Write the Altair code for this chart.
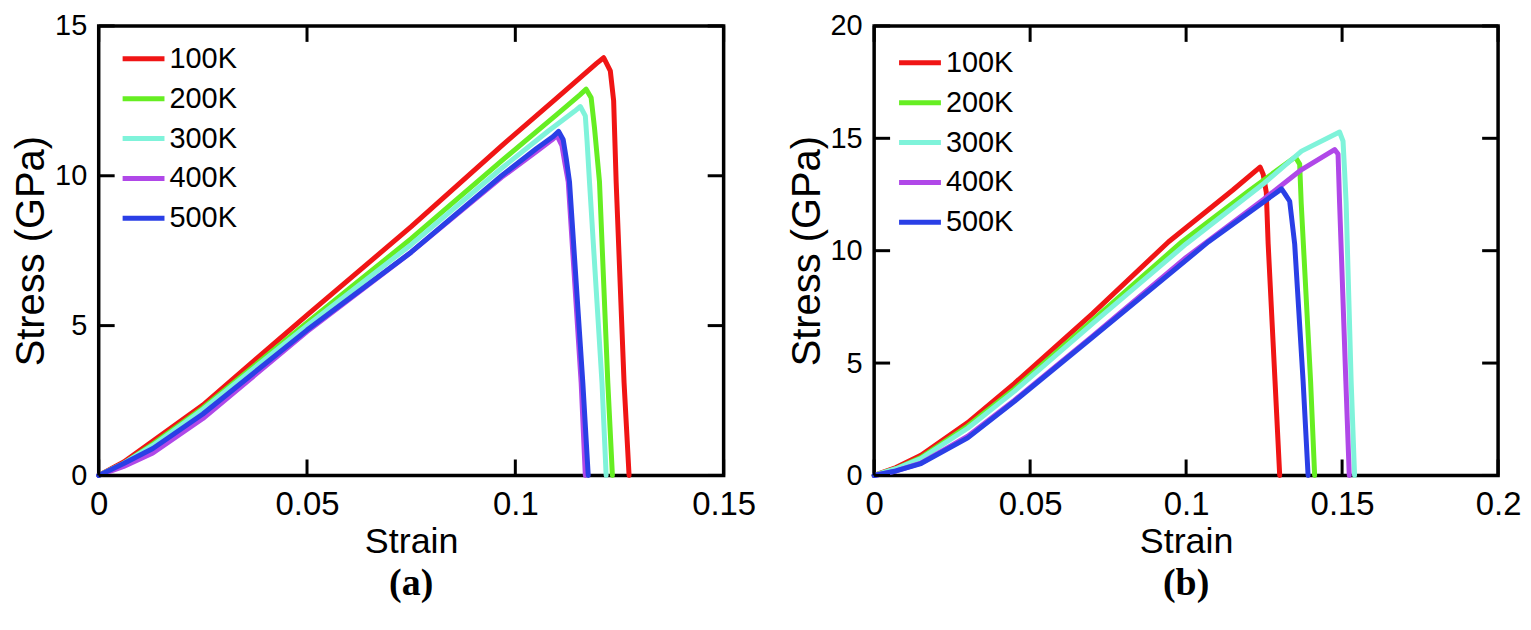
import altair as alt
import pandas as pd

temps = ["100K", "200K", "300K", "400K", "500K"]
colors = ["#F01515", "#66EE22", "#7FF3DA", "#B048E8", "#2A3FE6"]

# ---- panel (a) ----
a_strain_100 = [0, 0.006, 0.013, 0.025, 0.05, 0.075, 0.0967, 0.11, 0.1195, 0.1212, 0.1228, 0.1236, 0.1242, 0.1261, 0.1273]
a_stress_100 = [0, 0.45, 1.15, 2.35, 5.35, 8.3, 11.0, 12.6, 13.75, 13.94, 13.5, 12.5, 9.8, 3.1, 0]
a_strain_200 = [0, 0.006, 0.013, 0.025, 0.05, 0.075, 0.0967, 0.11, 0.1155, 0.117, 0.1182, 0.119, 0.1202, 0.1222, 0.1233]
a_stress_200 = [0, 0.4, 1.05, 2.25, 5.1, 7.9, 10.5, 12.05, 12.7, 12.89, 12.6, 11.6, 9.8, 3.1, 0]
a_strain_300 = [0, 0.006, 0.013, 0.025, 0.05, 0.075, 0.0967, 0.108, 0.1142, 0.1156, 0.1168, 0.1172, 0.1178, 0.1208, 0.1218]
a_stress_300 = [0, 0.4, 1.0, 2.2, 5.0, 7.7, 10.25, 11.5, 12.15, 12.31, 12.0, 11.2, 9.8, 3.1, 0]
a_strain_400 = [0, 0.006, 0.013, 0.025, 0.05, 0.075, 0.0967, 0.105, 0.1088, 0.110, 0.1112, 0.1118, 0.1127, 0.1158, 0.1168]
a_stress_400 = [0, 0.3, 0.75, 1.9, 4.8, 7.45, 9.95, 10.8, 11.2, 11.35, 11.0, 10.5, 9.8, 3.1, 0]
a_strain_500 = [0, 0.006, 0.013, 0.025, 0.05, 0.075, 0.0967, 0.105, 0.109, 0.1104, 0.1115, 0.1122, 0.1130, 0.1162, 0.1175]
a_stress_500 = [0, 0.4, 0.9, 2.05, 4.85, 7.45, 10.0, 10.9, 11.3, 11.48, 11.2, 10.6, 9.8, 3.1, 0]

# ---- panel (b) ----
b_strain_100 = [0, 0.007, 0.015, 0.03, 0.045, 0.07, 0.0944, 0.115, 0.1237, 0.1247, 0.1257, 0.1263, 0.1285, 0.130]
b_stress_100 = [0, 0.35, 0.9, 2.35, 4.1, 7.2, 10.4, 12.7, 13.72, 13.4, 12.6, 10.3, 4.2, 0]
b_strain_200 = [0, 0.007, 0.015, 0.03, 0.045, 0.07, 0.0987, 0.12, 0.135, 0.1364, 0.1369, 0.1399, 0.1412]
b_stress_200 = [0, 0.3, 0.8, 2.2, 3.85, 6.9, 10.4, 12.65, 14.17, 13.85, 12.1, 4.2, 0]
b_strain_300 = [0, 0.007, 0.015, 0.03, 0.045, 0.07, 0.1, 0.125, 0.137, 0.1492, 0.1503, 0.1508, 0.1513, 0.1529, 0.154]
b_stress_300 = [0, 0.3, 0.75, 2.1, 3.75, 6.75, 10.3, 13.0, 14.43, 15.28, 14.87, 13.55, 12.1, 4.2, 0]
b_strain_400 = [0, 0.007, 0.015, 0.03, 0.045, 0.07, 0.1, 0.125, 0.1369, 0.1476, 0.1487, 0.1492, 0.1512, 0.1523]
b_stress_400 = [0, 0.2, 0.55, 1.75, 3.35, 6.2, 9.7, 12.3, 13.6, 14.5, 14.3, 12.1, 4.2, 0]
b_strain_500 = [0, 0.007, 0.015, 0.03, 0.045, 0.07, 0.1072, 0.1306, 0.1318, 0.1332, 0.1348, 0.1375, 0.1391]
b_stress_500 = [0, 0.2, 0.53, 1.67, 3.3, 6.15, 10.4, 12.75, 12.5, 12.2, 10.3, 4.2, 0]

a_xticks = [0, 0.05, 0.1, 0.15]
a_yticks = [0, 5, 10, 15]
b_xticks = [0, 0.05, 0.1, 0.15, 0.2]
b_yticks = [0, 5, 10, 15, 20]


def build(pairs):
    rows = []
    for t, (xs, ys) in zip(temps, pairs):
        for i, (x, y) in enumerate(zip(xs, ys)):
            rows.append({"temp": t, "idx": i, "strain": x, "stress": y})
    return pd.DataFrame(rows)


df_a = build([(a_strain_100, a_stress_100), (a_strain_200, a_stress_200), (a_strain_300, a_stress_300),
              (a_strain_400, a_stress_400), (a_strain_500, a_stress_500)])
df_b = build([(b_strain_100, b_stress_100), (b_strain_200, b_stress_200), (b_strain_300, b_stress_300),
              (b_strain_400, b_stress_400), (b_strain_500, b_stress_500)])

TICK = 16


def panel(df, xmax, ymax, xticks, yticks, label, W, H, lx, ly):
    X = alt.X("strain:Q", scale=alt.Scale(domain=[0, xmax], nice=False, zero=False),
              axis=alt.Axis(values=xticks, format="~g", title="Strain", ticks=False, domain=False,
                            grid=False, labelFlush=False, labelPadding=13, titlePadding=3))
    Y = alt.Y("stress:Q", scale=alt.Scale(domain=[0, ymax], nice=False, zero=False),
              axis=alt.Axis(values=yticks, format="d", title="Stress (GPa)", ticks=False, domain=False,
                            grid=False, labelFlush=False, labelPadding=12, titlePadding=3))
    lines = alt.Chart(df).mark_line(strokeWidth=5, strokeJoin="round", strokeCap="round").encode(
        x=X, y=Y,
        color=alt.Color("temp:N", scale=alt.Scale(domain=temps, range=colors),
                        legend=alt.Legend(orient="none", legendX=lx, legendY=ly, title=None,
                                          symbolType="M-1.2,0H1.2", symbolSize=1225,
                                          symbolStrokeWidth=5, labelFontSize=29,
                                          labelFont="Liberation Sans", labelColor="black",
                                          labelOffset=6, rowPadding=5, padding=0)),
        order=alt.Order("idx:Q"),
    )
    xt = pd.DataFrame({"strain": xticks})
    yt = pd.DataFrame({"stress": yticks})
    rule = dict(color="black", strokeWidth=3)
    bottom = alt.Chart(xt).mark_rule(**rule).encode(x="strain:Q", y=alt.value(H), y2=alt.value(H - TICK))
    top = alt.Chart(xt).mark_rule(**rule).encode(x="strain:Q", y=alt.value(0), y2=alt.value(TICK))
    left = alt.Chart(yt).mark_rule(**rule).encode(y="stress:Q", x=alt.value(0), x2=alt.value(TICK))
    right = alt.Chart(yt).mark_rule(**rule).encode(y="stress:Q", x=alt.value(W), x2=alt.value(W - TICK))
    return alt.layer(lines, bottom, top, left, right).properties(
        width=W, height=H,
        title=alt.TitleParams(label, orient="bottom", font="Liberation Serif", fontSize=38,
                              fontWeight="bold", anchor="middle", offset=6, color="black"),
    )


pa = panel(df_a, 0.15, 15, a_xticks, a_yticks, "(a)", 627, 451, 25, 13)
pb = panel(df_b, 0.2, 20, b_xticks, b_yticks, "(b)", 626, 451, 26, 17)

chart = alt.hconcat(pa, pb, spacing=151, bounds="flush").resolve_scale(color="independent").configure_view(
    stroke="black", strokeWidth=3.5
).configure_axis(
    labelFont="Liberation Sans", labelColor="black",
    titleFont="Liberation Sans", titleColor="black", titleFontWeight="normal",
).configure_axisX(labelFontSize=33, titleFontSize=36).configure_axisY(labelFontSize=29, titleFontSize=40).properties(
    padding={"left": 1, "top": 1, "right": 0, "bottom": 0}
)

chart.save("out.html", embed_options={"renderer": "svg", "actions": False})
